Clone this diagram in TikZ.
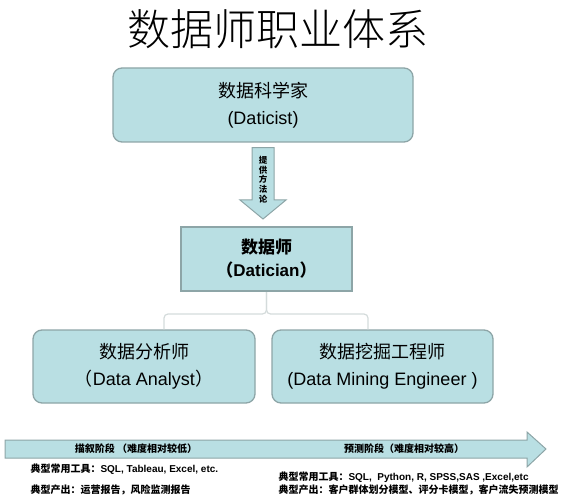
\documentclass[tikz,border=0pt]{standalone}
\usepackage{fontspec}
\setmainfont{Liberation Sans}
\newfontfamily\cjk{Noto Sans CJK SC}
\newfontfamily\cjkthin{Noto Sans CJK SC Light}
\usetikzlibrary{calc}
\definecolor{roleFill}{HTML}{B9DFE3}
\definecolor{roleEdge}{HTML}{8DA5A7}
\definecolor{linkGray}{HTML}{D4DBDB}
\newcommand{\zh}[1]{{\cjk #1}}

\begin{document}
\begin{tikzpicture}[x=1pt, y=-1pt,
  rolebox/.style={draw=roleEdge, fill=roleFill, line width=1.3pt, rounded corners=9pt,
    align=center, font=\fontsize{18}{27}\selectfont},
  notetext/.style={anchor=west, font=\bfseries\fontsize{10}{12}\selectfont},
  stagetext/.style={font=\cjk\bfseries\fontsize{10}{11}\selectfont}]
  \useasboundingbox (0,0) rectangle (576,500);

  \node[font=\cjkthin\fontsize{43}{46}\selectfont] (title) at (278,29) {数据师职业体系};

  \node[rolebox, minimum width=300pt, minimum height=74pt] (scientist) at (263,105)
    {\zh{数据科学家}\\(Daticist)};
  \node[rolebox, rounded corners=0pt, line width=2pt, minimum width=171pt, minimum height=64pt,
    font=\bfseries\fontsize{17}{23}\selectfont] (datician) at (266.5,259)
    {\zh{数据师}\\\zh{（}Datician\zh{）}};
  \node[rolebox, minimum width=222pt, minimum height=73pt] (analyst) at (144,366.5)
    {\zh{数据分析师}\\\zh{（}Data Analyst\zh{）}};
  \node[rolebox, minimum width=221pt, minimum height=73pt] (miner) at (382.5,366.5)
    {\zh{数据挖掘工程师}\\(Data Mining Engineer )};

  % arrow from scientist down to datician
  \coordinate (arrTop) at ($(scientist.south)+(0,5)$);
  \coordinate (arrTip) at ($(scientist.south |- datician.north)+(0,-7)$);
  \draw[roleEdge, fill=roleFill, line width=1pt, line join=miter]
    ($(arrTop)+(-11,0)$) -- ($(arrTop)+(11,0)$) -- ($(arrTip)+(11,-19)$)
    -- ($(arrTip)+(23,-19)$) -- (arrTip) -- ($(arrTip)+(-23,-19)$)
    -- ($(arrTip)+(-11,-19)$) -- cycle;
  \node[align=center, inner sep=0pt, font=\cjk\bfseries\fontsize{8.5}{9.8}\selectfont] (method)
    at ($(arrTop)+(0,32)$) {提\\供\\方\\法\\论};

  % links to the two roles
  \draw[linkGray, line width=1.2pt, rounded corners=4pt]
    (datician.south) -- ++(0,22) -| ($(analyst.north)+(20,0)$);
  \draw[linkGray, line width=1.2pt, rounded corners=4pt]
    (datician.south) -- ++(0,22) -| ($(miner.north)+(-14.5,0)$);

  % stage arrow
  \draw[roleEdge, fill=roleFill, line width=1pt, line join=miter]
    (5,440) -- (527,440) -- (527,432) -- (546,449) -- (527,467) -- (527,458) -- (5,458) -- cycle;
  \node[stagetext] (describe) at (136,449) {描叙阶段 （难度相对较低）};
  \node[stagetext] (predict) at (404,449) {预测阶段（难度相对较高）};

  \node[notetext] (toolsA) at (27,469) {\zh{典型常用工具：}SQL, Tableau, Excel, etc.};
  \node[notetext, font=\cjk\bfseries\fontsize{10}{12}\selectfont] (outA) at (27,490)
    {典型产出：运营报告，风险监测报告};
  \node[notetext] (toolsB) at (275,477) {\zh{典型常用工具：}SQL,\ \ Python, R, SPSS,SAS ,Excel,etc};
  \node[notetext, font=\cjk\bfseries\fontsize{10}{12}\selectfont] (outB) at (275,490)
    {典型产出：客户群体划分模型、评分卡模型，客户流失预测模型};
\end{tikzpicture}
\end{document}
